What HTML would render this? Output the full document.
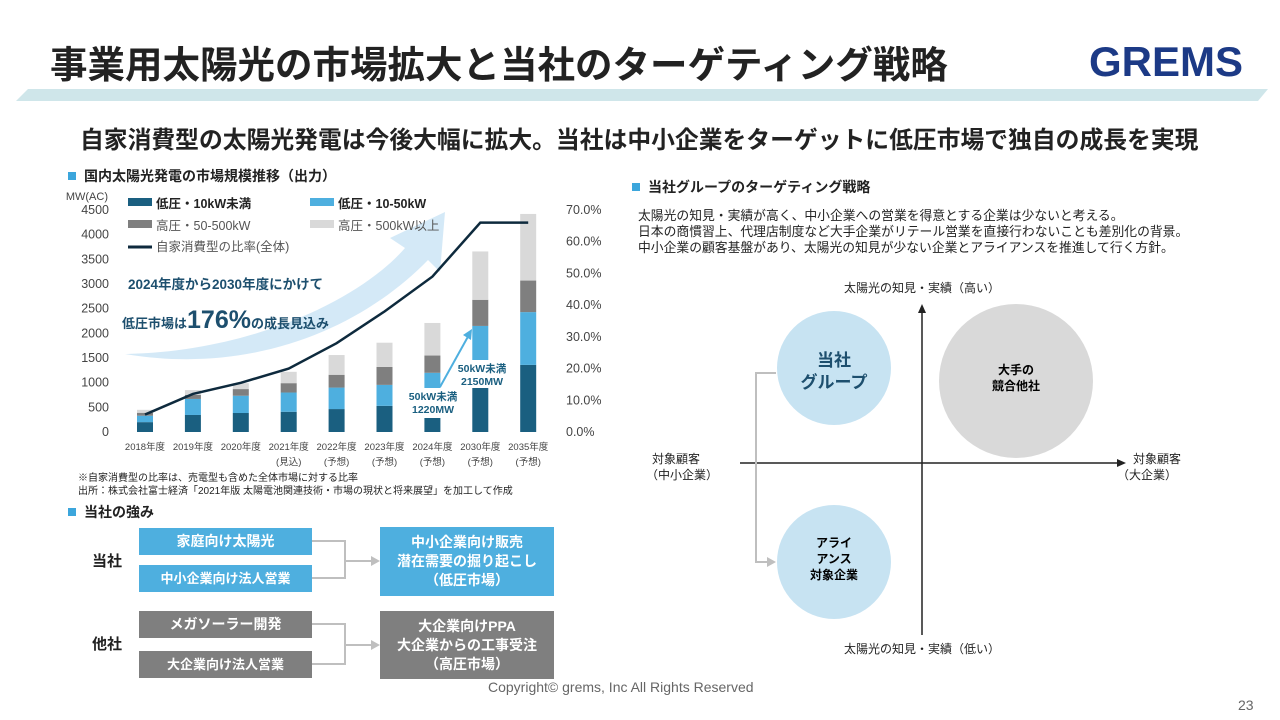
<!DOCTYPE html>
<html><head><meta charset="utf-8"><style>
body{margin:0;width:1280px;height:720px;background:#fff;position:relative;overflow:hidden;font-family:"Liberation Sans","Noto Sans CJK JP",sans-serif;color:#222}
.a{position:absolute}
.box{position:absolute;color:#fff;font-weight:bold;font-size:14px;display:flex;align-items:center;justify-content:center;text-align:center;line-height:19px}
.sq{position:absolute;width:8px;height:8px;background:#3ca6dc}
</style></head><body>
<div class="a" style="left:50px;top:34px;font-size:37.5px;font-weight:bold;color:#222;white-space:nowrap">事業用太陽光の市場拡大と当社のターゲティング戦略</div>
<div class="a" style="left:1089px;top:38px;font-size:42px;font-weight:bold;color:#1c3a86;transform:scaleX(1.0);transform-origin:left top">GREMS</div>
<svg class="a" style="left:0;top:0" width="1280" height="110"><polygon points="28,89 1268,89 1258,101 16,101" fill="#cfe6ea"/></svg>
<div class="a" style="left:80px;top:120px;font-size:23.8px;font-weight:bold;white-space:nowrap">自家消費型の太陽光発電は今後大幅に拡大。当社は中小企業をターゲットに低圧市場で独自の成長を実現</div>

<div class="sq" style="left:68px;top:172px"></div>
<div class="a" style="left:84px;top:166px;font-size:14px;font-weight:bold">国内太陽光発電の市場規模推移（出力）</div>
<svg class="a" id="chart" style="left:0;top:0" width="640" height="480"></svg>
<div class="a" style="left:78px;top:472px;font-size:10px;line-height:13px">※自家消費型の比率は、売電型も含めた全体市場に対する比率<br>出所：株式会社富士経済「2021年版 太陽電池関連技術・市場の現状と将来展望」を加工して作成</div>

<div class="sq" style="left:68px;top:508px"></div>
<div class="a" style="left:84px;top:502px;font-size:14px;font-weight:bold">当社の強み</div>
<div class="a" style="left:92px;top:550px;font-size:15px;font-weight:bold">当社</div>
<div class="a" style="left:92px;top:633px;font-size:15px;font-weight:bold">他社</div>
<div class="box" style="left:139px;top:528px;width:173px;height:27px;background:#4eafdf">家庭向け太陽光</div>
<div class="box" style="left:139px;top:565px;width:173px;height:27px;background:#4eafdf;font-size:13px">中小企業向け法人営業</div>
<div class="box" style="left:380px;top:527px;width:174px;height:69px;background:#4eafdf">中小企業向け販売<br>潜在需要の掘り起こし<br>（低圧市場）</div>
<div class="box" style="left:139px;top:611px;width:173px;height:27px;background:#7f7f7f">メガソーラー開発</div>
<div class="box" style="left:139px;top:651px;width:173px;height:27px;background:#7f7f7f;font-size:13px">大企業向け法人営業</div>
<div class="box" style="left:380px;top:611px;width:174px;height:68px;background:#7f7f7f">大企業向けPPA<br>大企業からの工事受注<br>（高圧市場）</div>
<svg class="a" style="left:0;top:0" width="640" height="720">
<g stroke="#bfbfbf" stroke-width="2" fill="none">
<polyline points="312,541 345,541 345,578 312,578"/><line x1="345" y1="561" x2="372" y2="561"/>
<polyline points="312,624 345,624 345,664 312,664"/><line x1="345" y1="645" x2="372" y2="645"/></g>
<polygon points="380,561 371,556 371,566" fill="#bfbfbf"/><polygon points="380,645 371,640 371,650" fill="#bfbfbf"/>
</svg>

<div class="sq" style="left:632px;top:183px"></div>
<div class="a" style="left:648px;top:177px;font-size:14px;font-weight:bold">当社グループのターゲティング戦略</div>
<div class="a" style="left:638px;top:208px;font-size:12.8px;line-height:16px;white-space:nowrap">太陽光の知見・実績が高く、中小企業への営業を得意とする企業は少ないと考える。<br>日本の商慣習上、代理店制度など大手企業がリテール営業を直接行わないことも差別化の背景。<br>中小企業の顧客基盤があり、太陽光の知見が少ない企業とアライアンスを推進して行く方針。</div>
<svg class="a" style="left:640px;top:270px" width="640" height="400">
<g font-size="12" fill="#222" text-anchor="middle">
<text x="282" y="22">太陽光の知見・実績（高い）</text>
<text x="282" y="383">太陽光の知見・実績（低い）</text>
<text x="36" y="193">対象顧客</text><text x="42" y="209">（中小企業）</text>
<text x="517" y="193">対象顧客</text><text x="507" y="209">（大企業）</text></g>
<line x1="100" y1="193" x2="478" y2="193" stroke="#222" stroke-width="1.5"/><polygon points="486,193 477,189 477,197" fill="#222"/>
<line x1="282" y1="365" x2="282" y2="42" stroke="#222" stroke-width="1.5"/><polygon points="282,34 278,43 286,43" fill="#222"/>
<circle cx="376" cy="111" r="77" fill="#d9d9d9"/>
<circle cx="194" cy="98" r="57" fill="#c7e3f2"/>
<circle cx="194" cy="292" r="57" fill="#c7e3f2"/>
<polyline points="136,103 116,103 116,292 128,292" fill="none" stroke="#bfbfbf" stroke-width="2"/><polygon points="136,292 127,287 127,297" fill="#bfbfbf"/>
<g font-weight="bold" text-anchor="middle">
<text x="194" y="96" font-size="17" fill="#1d4f6e">当社</text><text x="194" y="118" font-size="17" fill="#1d4f6e">グループ</text>
<text x="376" y="104" font-size="12">大手の</text><text x="376" y="120" font-size="12">競合他社</text>
<text x="194" y="277" font-size="12">アライ</text><text x="194" y="293" font-size="12">アンス</text><text x="194" y="309" font-size="12">対象企業</text></g>
</svg>

<div class="a" style="left:488px;top:679px;font-size:14px;color:#666">Copyright© grems, Inc All Rights Reserved</div>
<div class="a" style="left:1238px;top:697px;font-size:14px;color:#666">23</div>

<script>
const categories=["2018年度","2019年度","2020年度","2021年度","2022年度","2023年度","2024年度","2030年度","2035年度"];
const subLabels=["","","","(見込)","(予想)","(予想)","(予想)","(予想)","(予想)"];
const lowUnder10=[200,345,385,410,465,530,600,1100,1360];
const low10to50=[130,325,350,390,435,425,600,1050,1070];
const high50to500=[60,80,135,190,260,365,350,530,640];
const high500plus=[60,100,120,230,400,490,660,980,1350];
const selfRatio=[5.5,12,15.5,20,28,38,49,66,66];
const leftTicks=[0,500,1000,1500,2000,2500,3000,3500,4000,4500];
const rightTicks=[0,10,20,30,40,50,60,70];
const NS="http://www.w3.org/2000/svg";
const svg=document.getElementById('chart');
const y0=432,yTop=210;
const yL=v=>y0-(y0-yTop)*v/4500, yR=v=>y0-(y0-yTop)*v/70;
const xC=i=>145+i*47.9;
function mk(t,a,txt){const e=document.createElementNS(NS,t);for(const k in a)e.setAttribute(k,a[k]);if(txt!==undefined)e.textContent=txt;svg.appendChild(e);return e;}
const arr=mk('path',{d:"M125,354 C250,352 360,300 405,248 L390,238 L445,212 L440,272 L428,260 C360,330 250,375 125,354 Z",fill:"#cfe7f6",opacity:"0.9"});


mk('text',{x:108,y:200,"font-size":11,fill:"#444","text-anchor":"end"},"MW(AC)");
leftTicks.forEach(t=>{const e=mk('text',{x:109,y:yL(t)+4,"font-size":12.5,fill:"#444","text-anchor":"end"},t);

});
rightTicks.forEach(t=>{const e=mk('text',{x:566,y:yR(t)+4,"font-size":12.5,fill:"#444"},t.toFixed(1)+"%");

});
const series=[[lowUnder10,"#1a5f80"],[low10to50,"#4eafdf"],[high50to500,"#7f7f7f"],[high500plus,"#d9d9d9"]];
categories.forEach((c,i)=>{let acc=0;series.forEach(([arr,col],s)=>{const v=arr[i];const r=mk('rect',{x:xC(i)-8,y:yL(acc+v),width:16,height:yL(acc)-yL(acc+v),fill:col});


acc+=v;});
const t=mk('text',{x:xC(i),y:450,"font-size":9.5,fill:"#444","text-anchor":"middle"},c);


if(subLabels[i])mk('text',{x:xC(i),y:465,"font-size":9.5,fill:"#444","text-anchor":"middle"},subLabels[i]);});
const line=mk('polyline',{points:selfRatio.map((v,i)=>xC(i)+","+yR(v)).join(" "),fill:"none",stroke:"#0e2a3d","stroke-width":2.5});


mk('rect',{x:404,y:388,width:58,height:30,fill:"#fff"});
mk('text',{x:433,y:400,"font-size":10.5,"font-weight":"bold",fill:"#1a5f80","text-anchor":"middle"},"50kW未満");
mk('text',{x:433,y:413,"font-size":10.5,"font-weight":"bold",fill:"#1a5f80","text-anchor":"middle"},"1220MW");
mk('rect',{x:453,y:360,width:58,height:28,fill:"#fff"});
mk('text',{x:482,y:372,"font-size":10.5,"font-weight":"bold",fill:"#1a5f80","text-anchor":"middle"},"50kW未満");
mk('text',{x:482,y:385,"font-size":10.5,"font-weight":"bold",fill:"#1a5f80","text-anchor":"middle"},"2150MW");
mk('line',{x1:440,y1:387,x2:470,y2:333,stroke:"#4eafdf","stroke-width":2});
mk('polygon',{points:"472,329 463,335 471,340",fill:"#4eafdf"});
mk('text',{x:128,y:289,"font-size":13.5,"font-weight":"bold",fill:"#1d4f6e"},"2024年度から2030年度にかけて");
const g=mk('text',{x:122,y:328,"font-size":13,"font-weight":"bold",fill:"#1d4f6e"});
g.innerHTML='低圧市場は<tspan font-size="25">176%</tspan>の成長見込み';
const leg=[[128,205,"#1a5f80","低圧・10kW未満",true],[310,205,"#4eafdf","低圧・10-50kW",true],[128,227,"#7f7f7f","高圧・50-500kW",false],[310,227,"#d9d9d9","高圧・500kW以上",false]];
leg.forEach(([x,y,c,t,b])=>{const r=mk('rect',{x:x,y:y-7,width:24,height:8,fill:c});


mk('text',{x:x+28,y:y+3,"font-size":12.5,fill:b?"#222":"#555","font-weight":b?"bold":"normal"},t);});
mk('line',{x1:128,y1:247,x2:152,y2:247,stroke:"#0e2a3d","stroke-width":3});
mk('text',{x:156,y:251,"font-size":12.5,fill:"#555"},"自家消費型の比率(全体)");
</script>
</body></html>
